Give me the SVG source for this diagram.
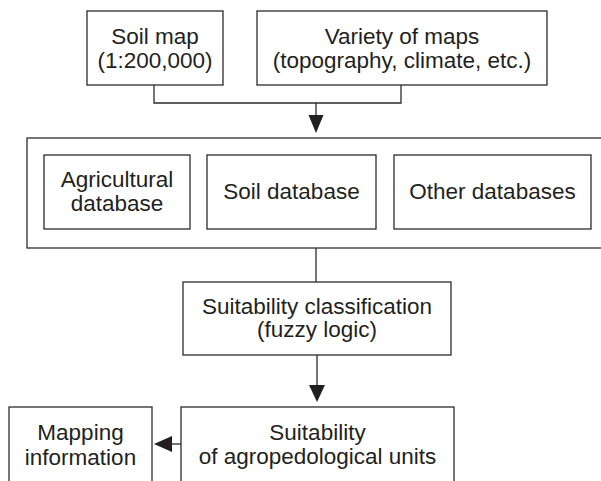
<svg xmlns="http://www.w3.org/2000/svg" width="601" height="481" viewBox="0 0 601 481">
<defs>
<style>
.box{fill:#fff;stroke:#2b2b2b;stroke-width:1.3}
.ln{fill:none;stroke:#2b2b2b;stroke-width:1.3}
.ah{fill:#231f20;stroke:none}
text{font-family:"Liberation Sans",Arial,sans-serif;font-size:22.5px;fill:#231f20;text-anchor:middle}
</style>
</defs>
<rect width="601" height="481" fill="#fff"/>
<g id="soil-map">
<rect class="box" x="87" y="11" width="136" height="74"/>
<text x="155" y="44">Soil map</text>
<text x="155" y="68">(1:200,000)</text>
</g>
<g id="variety-maps">
<rect class="box" x="257" y="11" width="290" height="74"/>
<text x="402" y="44">Variety of maps</text>
<text x="402" y="68">(topography, climate, etc.)</text>
</g>
<g id="databases">
<rect class="box" x="27" y="138" width="600" height="110"/>
</g>
<g id="agricultural-database">
<rect class="box" x="44" y="155" width="146" height="74"/>
<text x="117" y="187">Agricultural</text>
<text x="117" y="211">database</text>
</g>
<g id="soil-database">
<rect class="box" x="207" y="155" width="169" height="74"/>
<text x="291.5" y="199">Soil database</text>
</g>
<g id="other-databases">
<rect class="box" x="394" y="155" width="197" height="74"/>
<text x="492.5" y="199">Other databases</text>
</g>
<g id="suitability-classification">
<rect class="box" x="183" y="282" width="268" height="73"/>
<text x="317" y="314">Suitability classification</text>
<text x="317" y="337">(fuzzy logic)</text>
</g>
<g id="suitability-units">
<rect class="box" x="181" y="407" width="273" height="100"/>
<text x="317.5" y="440">Suitability</text>
<text x="317.5" y="464">of agropedological units</text>
</g>
<g id="mapping-information">
<rect class="box" x="9" y="407" width="143" height="100"/>
<text x="80.5" y="440">Mapping</text>
<text x="80.5" y="464.5">information</text>
</g>
<g id="connectors">
<path class="ln" d="M154,85 V103 H401 V85"/>
<path class="ln" d="M316,103 V118"/>
<polygon class="ah" points="308.5,115 323.5,115 316,133"/>
<path class="ln" d="M316,248 V282"/>
<path class="ln" d="M317,355 V388"/>
<polygon class="ah" points="309,385 325,385 317,402"/>
<path class="ln" d="M181,444 H168"/>
<polygon class="ah" points="172,436 172,452 154,444"/>
</g>
</svg>
